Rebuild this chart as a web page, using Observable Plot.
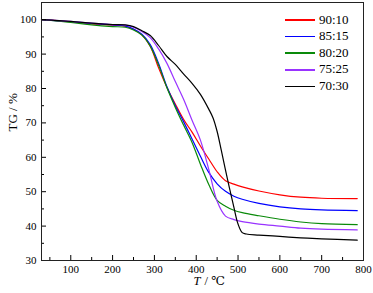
<!DOCTYPE html>
<html><head><meta charset="utf-8">
<script src="https://cdn.jsdelivr.net/npm/d3@7"></script>
<script src="https://cdn.jsdelivr.net/npm/@observablehq/plot@0.6"></script>
<style>
body{margin:0;background:#fff;}
#wrap{position:relative;width:373px;height:293px;font-family:"Liberation Serif","Times New Roman","DejaVu Serif",serif;}
#wrap svg text{font-family:"Liberation Serif","Times New Roman","DejaVu Serif",serif;}
#legend{position:absolute;left:285px;top:11.7px;}
.row{display:flex;align-items:center;height:16.6px;font-size:13px;line-height:16.6px;color:#000;}
.sw{display:inline-block;width:30px;height:1.5px;margin-right:4px;}
</style></head><body><div id="wrap"><div id="legend"></div></div>
<script>
const labels = ["90:10", "85:15", "80:20", "75:25", "70:30"];
const colors = ["#ff0000", "#0000ff", "#0a8a0a", "#9933ff", "#000000"];
const tempCommon = [30,100,150,200,230,250,270,290,310,330,350,370,390,410,430,450,470,490,510,550,600,650,700,785];
const w9010 = [100,99.4,98.8,98.4,98.1,97.2,95.6,92.3,86.0,80.3,75.5,71.0,67.3,63.3,59.5,55.8,53.2,52.2,51.4,50.2,49.1,48.4,48.1,48.0];
const w8515 = [100,99.4,98.9,98.5,98.2,97.3,95.8,92.8,87.3,80.5,75.0,70.3,65.3,60.3,55.6,52.3,50.1,48.7,47.8,46.6,45.6,45.0,44.7,44.5];
const w8020 = [100,99.2,98.5,98.0,97.8,97.0,95.5,92.3,86.8,80.2,74.5,69.3,64.3,58.0,52.1,47.5,45.8,44.6,43.9,43.0,42.0,41.2,40.7,40.4];
const w7525 = [100,99.5,99.0,98.6,98.4,97.8,96.6,94.8,91.5,87.3,82.0,76.8,70.8,65.0,56.5,47.2,42.9,41.9,41.3,40.6,40.0,39.4,39.1,38.9];
const temp7030 = [30,100,150,200,230,250,270,290,310,330,350,370,390,410,430,440,450,460,475,490,500,510,520,550,600,650,700,785];
const w7030 = [100,99.5,99.0,98.6,98.5,98.0,96.8,95.4,92.5,89.3,87.0,84.2,81.5,78.3,74.0,71.5,67.5,62.0,53.5,45.5,40.6,38.1,37.7,37.4,37.0,36.6,36.3,35.9];
const xMajor = [100,200,300,400,500,600,700,800];
const xMinor = [50,150,250,350,450,550,650,750];
const yMajor = [30,40,50,60,70,80,90,100];
const yMinor = [35,45,55,65,75,85,95];

const seriesW = [w9010, w8515, w8020, w7525];
const rows = [];
seriesW.forEach((ws, i) => ws.forEach((w, j) => rows.push({T: tempCommon[j], W: w, s: labels[i]})));
w7030.forEach((w, j) => rows.push({T: temp7030[j], W: w, s: labels[4]}));

const serif = "'Liberation Serif', 'Times New Roman', 'DejaVu Serif', serif";
const chart = Plot.plot({
  width: 373, height: 293,
  marginLeft: 41, marginRight: 10, marginTop: 2, marginBottom: 33,
  style: {fontFamily: serif, fontSize: "11px", background: "white", color: "black"},
  x: {domain: [30, 800], label: null},
  y: {domain: [30, 105], label: null},
  color: {domain: labels, range: colors},
  marks: [
    Plot.line(rows, {x: "T", y: "W", z: "s", stroke: "s", curve: "catmull-rom", strokeWidth: 1.2}),
    Plot.axisX(xMajor, {tickSize: -5, tickFormat: () => "", label: null}),
    Plot.axisX(xMinor, {tickSize: -3, tickFormat: () => "", label: null}),
    Plot.axisX(xMajor, {tickSize: 0, tickPadding: 5, label: null}),
    Plot.axisY(yMajor, {tickSize: -5, tickFormat: () => "", label: null}),
    Plot.axisY(yMinor, {tickSize: -3, tickFormat: () => "", label: null}),
    Plot.axisY(yMajor, {tickSize: 0, tickPadding: 5, label: null}),
    Plot.text(["TG / %"], {frameAnchor: "left", dx: -29, rotate: -90, fontSize: 13}),
    Plot.text(["T"], {frameAnchor: "bottom", dx: -9, dy: 24.5, textAnchor: "start", fontStyle: "italic", fontSize: 12.5}),
    Plot.text(["/ ℃"], {frameAnchor: "bottom", dx: 2, dy: 24.5, textAnchor: "start", fontSize: 12.5}),
    Plot.frame({stroke: "#222"})
  ]
});
const wrap = document.getElementById("wrap");
wrap.insertBefore(chart, wrap.firstChild);
const legend = document.getElementById("legend");
labels.forEach((l, i) => {
  const r = document.createElement("div");
  r.className = "row";
  const sw = document.createElement("span");
  sw.className = "sw";
  sw.style.background = colors[i];
  r.appendChild(sw);
  r.appendChild(document.createTextNode(l));
  legend.appendChild(r);
});
</script></body></html>
